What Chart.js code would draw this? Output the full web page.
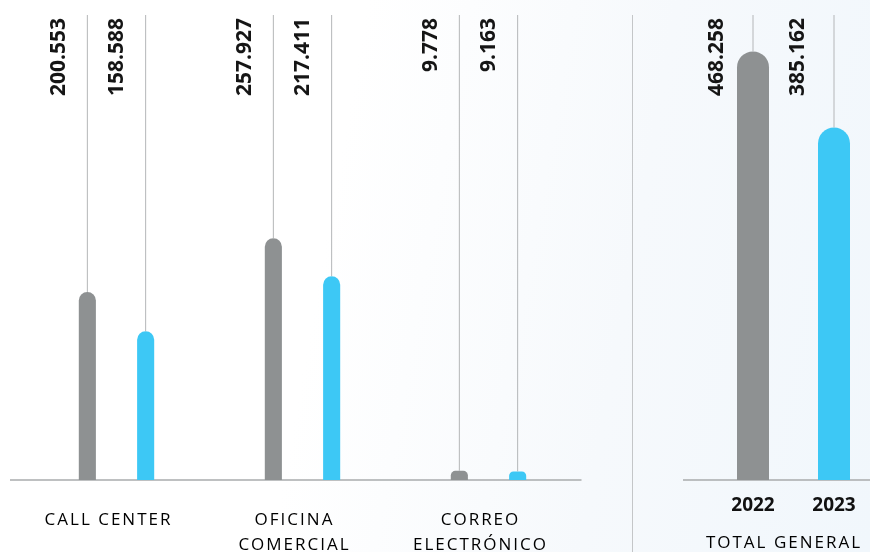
<!DOCTYPE html>
<html lang="es">
<head>
    <meta charset="UTF-8">
    <title>Atención por canal 2022 - 2023</title>
    <script src="https://cdn.jsdelivr.net/npm/chart.js"></script>
    <style>
        html, body {
            margin: 0;
            padding: 0;
            width: 870px;
            height: 552px;
            overflow: hidden;
        }
        body {
            position: relative;
            background: linear-gradient(100deg, #ffffff 38%, #f6f9fc 70%, #f1f7fc 100%);
            font-family: 'Open Sans', sans-serif;
        }
        #canalesWrap {
            position: absolute;
            left: 0;
            top: 0;
            width: 600px;
            height: 600px;
        }
        #totalWrap {
            position: absolute;
            left: 640px;
            top: 0;
            width: 240px;
            height: 600px;
        }
        .separador {
            position: absolute;
            left: 632px;
            top: 15px;
            width: 1px;
            height: 540px;
            background: #c4c6c8;
        }
        .total-titulo {
            position: absolute;
            left: 684px;
            width: 200px;
            top: 530px;
            text-align: center;
            font-size: 17px;
            letter-spacing: 2px;
            color: #000000;
        }
    </style>
</head>
<body>
    <div id="canalesWrap"><canvas id="canalesChart"></canvas></div>
    <div class="separador"></div>
    <div id="totalWrap"><canvas id="totalChart"></canvas></div>
    <div class="total-titulo">TOTAL GENERAL</div>

    <script>
        // Datos por canal de atención
        const categorias = [['CALL CENTER'], ['OFICINA', 'COMERCIAL'], ['CORREO', 'ELECTRÓNICO']];
        const valores2022 = [200553, 257927, 9778];
        const valores2023 = [158588, 217411, 9163];

        // Totales
        const anios = ['2022', '2023'];
        const totales = [468258, 385162];

        const GRIS = '#8e9192';
        const CELESTE = '#3dc8f5';

        // 200553 -> "200.553"
        function formato(v) {
            return v.toString().replace(/\B(?=(\d{3})+(?!\d))/g, '.');
        }

        // Línea base, líneas guía y etiquetas verticales
        const guiasPlugin = {
            id: 'guias',
            beforeDraw(chart, args, opts) {
                chart.ctx.letterSpacing = opts.espaciado || '0px';
            },
            beforeDatasetsDraw(chart, args, opts) {
                const ctx = chart.ctx;
                const area = chart.chartArea;
                ctx.save();
                ctx.strokeStyle = '#a9abad';
                ctx.lineWidth = 1.5;
                ctx.beginPath();
                ctx.moveTo(area.left - opts.extraIzq, area.bottom);
                ctx.lineTo(area.right + opts.extraDer, area.bottom);
                ctx.stroke();
                ctx.restore();
            },
            afterDatasetsDraw(chart, args, opts) {
                const ctx = chart.ctx;
                const area = chart.chartArea;
                ctx.save();
                ctx.letterSpacing = '0px';
                chart.data.datasets.forEach((ds, i) => {
                    const meta = chart.getDatasetMeta(i);
                    meta.data.forEach((bar, j) => {
                        ctx.strokeStyle = '#b4b6b8';
                        ctx.lineWidth = 1;
                        ctx.beginPath();
                        ctx.moveTo(bar.x, area.top);
                        ctx.lineTo(bar.x, bar.y);
                        ctx.stroke();

                        ctx.save();
                        ctx.translate(bar.x - bar.width / 2 - 20, area.top + 3);
                        ctx.rotate(-Math.PI / 2);
                        ctx.font = 'bold 21px "Open Sans"';
                        ctx.fillStyle = '#151515';
                        ctx.textAlign = 'right';
                        ctx.textBaseline = 'middle';
                        ctx.fillText(formato(ds.data[j]), 0, 0);
                        ctx.restore();
                    });
                });
                ctx.restore();
            },
            afterDraw(chart) {
                chart.ctx.letterSpacing = '0px';
            }
        };

        const radioIzq = 8.5;
        const radioDer = 16;

        new Chart(document.getElementById('canalesChart'), {
            type: 'bar',
            data: {
                labels: categorias,
                datasets: [
                    {
                        label: '2022',
                        data: valores2022,
                        backgroundColor: GRIS,
                        borderRadius: { topLeft: radioIzq, topRight: radioIzq },
                        categoryPercentage: 0.627,
                        barPercentage: 0.293
                    },
                    {
                        label: '2023',
                        data: valores2023,
                        backgroundColor: CELESTE,
                        borderRadius: { topLeft: radioIzq, topRight: radioIzq },
                        categoryPercentage: 0.627,
                        barPercentage: 0.293
                    }
                ]
            },
            options: {
                responsive: true,
                maintainAspectRatio: false,
                animation: false,
                layout: { padding: { left: 23.5, right: 18.5, top: 15, bottom: 0 } },
                plugins: {
                    legend: { display: false },
                    tooltip: { enabled: false },
                    guias: { extraIzq: 13.5, extraDer: 0, espaciado: '2px' }
                },
                scales: {
                    x: {
                        grid: { display: false, drawTicks: false },
                        border: { display: false },
                        ticks: {
                            color: '#000000',
                            padding: 28,
                            labelOffset: -8,
                            maxRotation: 0,
                            autoSkip: false,
                            font: { family: 'Open Sans', size: 17, lineHeight: 1.45 }
                        },
                        afterFit(scale) { scale.height = 120; }
                    },
                    y: {
                        display: false,
                        min: 0,
                        max: 496000
                    }
                }
            },
            plugins: [guiasPlugin]
        });

        new Chart(document.getElementById('totalChart'), {
            type: 'bar',
            data: {
                labels: anios,
                datasets: [{
                    label: 'Total general',
                    data: totales,
                    backgroundColor: [GRIS, CELESTE],
                    borderRadius: { topLeft: radioDer, topRight: radioDer },
                    categoryPercentage: 1,
                    barPercentage: 0.395
                }]
            },
            options: {
                responsive: true,
                maintainAspectRatio: false,
                animation: false,
                layout: { padding: { left: 72.5, right: 5.5, top: 15, bottom: 0 } },
                plugins: {
                    legend: { display: false },
                    tooltip: { enabled: false },
                    guias: { extraIzq: 29.5, extraDer: 0, espaciado: '0px' }
                },
                scales: {
                    x: {
                        grid: { display: false, drawTicks: false },
                        border: { display: false },
                        ticks: {
                            color: '#111111',
                            padding: 14,
                            font: { family: 'Open Sans', size: 19, weight: 'bold' }
                        },
                        afterFit(scale) { scale.height = 120; }
                    },
                    y: {
                        display: false,
                        min: 0,
                        max: 508000
                    }
                }
            },
            plugins: [guiasPlugin]
        });
    </script>
</body>
</html>
